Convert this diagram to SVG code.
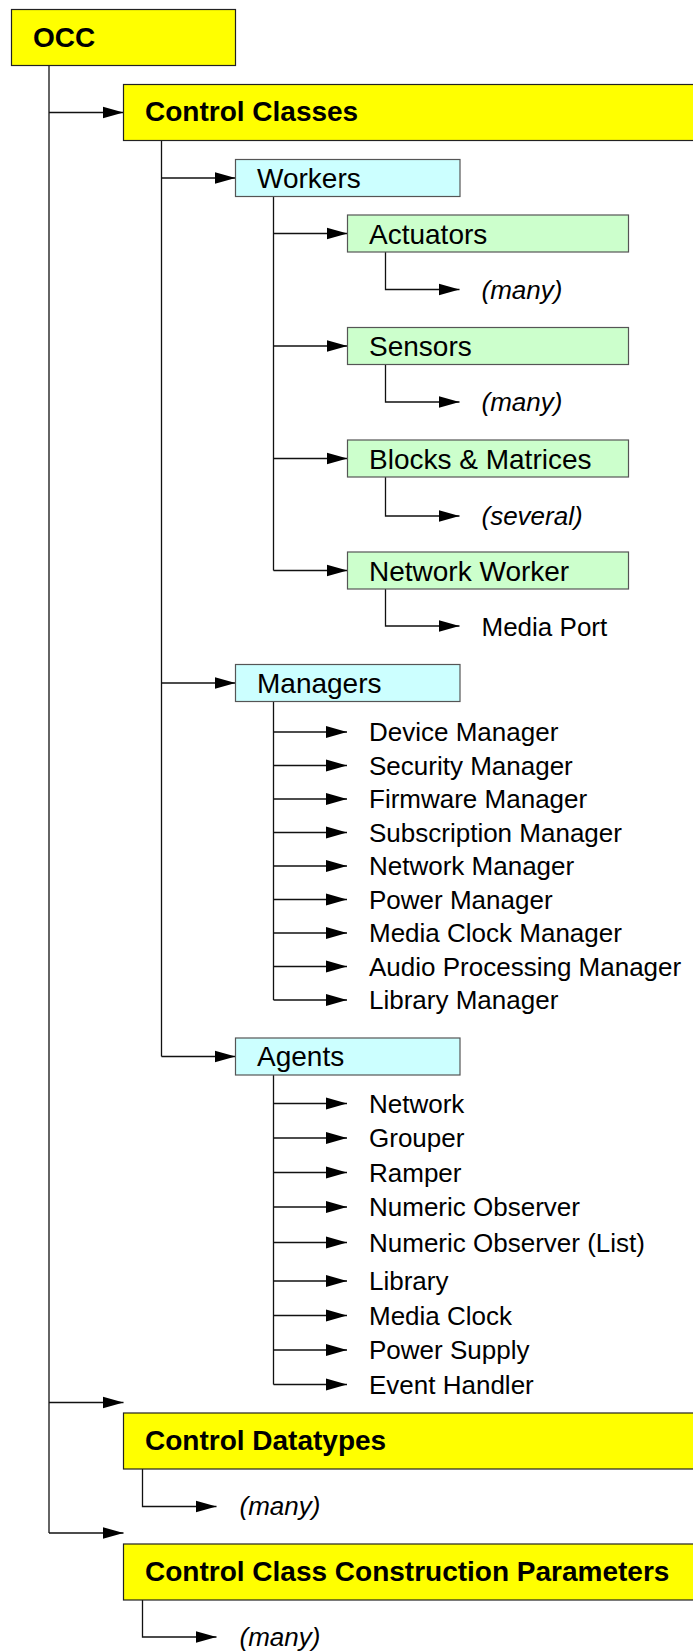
<svg xmlns="http://www.w3.org/2000/svg" width="693" height="1652" viewBox="0 0 693 1652">
  <defs>
    <marker id="arrow" markerUnits="userSpaceOnUse" markerWidth="22" markerHeight="13" refX="21" refY="6.5" orient="auto">
      <path d="M0,0.5 L21,6.5 L0,12.5 z" fill="#000"/>
    </marker>
    <style>
      .title { fill: #ffff00; stroke: #222; stroke-width: 1.2; }
      .group { fill: #ccffff; stroke: #555; stroke-width: 1.2; }
      .kind { fill: #ccffcc; stroke: #555; stroke-width: 1.2; }
      .bold { font-family: "Liberation Sans", Arial, sans-serif; font-weight: bold; font-size: 28px; fill: #000; }
      .label { font-family: "Liberation Sans", Arial, sans-serif; font-size: 28px; fill: #000; }
      .item { font-family: "Liberation Sans", Arial, sans-serif; font-size: 26px; fill: #000; }
      .note { font-family: "Liberation Sans", Arial, sans-serif; font-size: 26px; font-style: italic; fill: #000; }
      #connectors path { fill: none; stroke: #111; stroke-width: 1.3; }
      #connectors .to { marker-end: url(#arrow); }
    </style>
  </defs>

  <rect width="693" height="1652" fill="#fff"/>

  <!-- connectors -->
  <g id="connectors">
    <!-- OCC trunk -->
    <path d="M49,65.5 V1533"/>
    <path class="to" d="M49,112.5 H123.5"/>
    <path class="to" d="M49,1402.5 H123.5"/>
    <path class="to" d="M49,1533 H123.5"/>

    <!-- Control Classes trunk -->
    <path d="M161.5,140.5 V1056.5"/>
    <path class="to" d="M161.5,178 H235.5"/>
    <path class="to" d="M161.5,683 H235.5"/>
    <path class="to" d="M161.5,1056.5 H235.5"/>

    <!-- Workers trunk -->
    <path d="M273.5,196.5 V570.5"/>
    <path class="to" d="M273.5,233.5 H347.5"/>
    <path class="to" d="M273.5,346 H347.5"/>
    <path class="to" d="M273.5,458.5 H347.5"/>
    <path class="to" d="M273.5,570.5 H347.5"/>

    <!-- worker kinds -->
    <path class="to" d="M385.5,252 V289.5 H459.5"/>
    <path class="to" d="M385.5,364.5 V402 H459.5"/>
    <path class="to" d="M385.5,477 V516 H459.5"/>
    <path class="to" d="M385.5,589 V626 H459.5"/>

    <!-- Managers trunk -->
    <path d="M273.5,701.5 V1000"/>
    <path class="to" d="M273.5,732 H347"/>
    <path class="to" d="M273.5,765.5 H347"/>
    <path class="to" d="M273.5,799 H347"/>
    <path class="to" d="M273.5,832.5 H347"/>
    <path class="to" d="M273.5,866 H347"/>
    <path class="to" d="M273.5,899.5 H347"/>
    <path class="to" d="M273.5,933 H347"/>
    <path class="to" d="M273.5,966.5 H347"/>
    <path class="to" d="M273.5,1000 H347"/>

    <!-- Agents trunk -->
    <path d="M273.5,1062 V1384.5"/>
    <path class="to" d="M273.5,1103.5 H347"/>
    <path class="to" d="M273.5,1138 H347"/>
    <path class="to" d="M273.5,1172.5 H347"/>
    <path class="to" d="M273.5,1207 H347"/>
    <path class="to" d="M273.5,1242.5 H347"/>
    <path class="to" d="M273.5,1281 H347"/>
    <path class="to" d="M273.5,1315.5 H347"/>
    <path class="to" d="M273.5,1350 H347"/>
    <path class="to" d="M273.5,1384.5 H347"/>

    <!-- datatypes and construction parameters -->
    <path class="to" d="M142.5,1469 V1506.5 H216.5"/>
    <path class="to" d="M142.5,1600 V1637 H216.5"/>
  </g>

  <!-- top level -->
  <g id="occ">
    <rect class="title" x="11.5" y="9.5" width="224" height="56"/>
    <text class="bold" x="33" y="47">OCC</text>
  </g>

  <g id="control-classes">
    <rect class="title" x="123.5" y="84.5" width="580" height="56"/>
    <text class="bold" x="145" y="121">Control Classes</text>
  </g>

  <!-- Workers -->
  <g id="workers">
    <rect class="group" x="235.5" y="159.5" width="224.5" height="37"/>
    <text class="label" x="257" y="187.5">Workers</text>
  </g>
  <g id="actuators">
    <rect class="kind" x="347.5" y="215" width="281" height="37"/>
    <text class="label" x="369" y="243.5">Actuators</text>
  </g>
  <g id="actuators-many">
    <text class="note" x="481.5" y="298.5">(many)</text>
  </g>
  <g id="sensors">
    <rect class="kind" x="347.5" y="327.5" width="281" height="37"/>
    <text class="label" x="369" y="356">Sensors</text>
  </g>
  <g id="sensors-many">
    <text class="note" x="481.5" y="411">(many)</text>
  </g>
  <g id="blocks-matrices">
    <rect class="kind" x="347.5" y="440" width="281" height="37"/>
    <text class="label" x="369" y="468.5">Blocks &amp; Matrices</text>
  </g>
  <g id="blocks-several">
    <text class="note" x="481.5" y="525">(several)</text>
  </g>
  <g id="network-worker">
    <rect class="kind" x="347.5" y="552" width="281" height="37"/>
    <text class="label" x="369" y="580.5">Network Worker</text>
  </g>
  <g id="media-port">
    <text class="item" x="481.5" y="635.5">Media Port</text>
  </g>

  <!-- Managers -->
  <g id="managers">
    <rect class="group" x="235.5" y="664.5" width="224.5" height="37"/>
    <text class="label" x="257" y="692.5">Managers</text>
  </g>
  <g id="manager-list">
    <text class="item" x="369" y="741">Device Manager</text>
    <text class="item" x="369" y="774.5">Security Manager</text>
    <text class="item" x="369" y="808">Firmware Manager</text>
    <text class="item" x="369" y="841.5">Subscription Manager</text>
    <text class="item" x="369" y="875">Network Manager</text>
    <text class="item" x="369" y="908.5">Power Manager</text>
    <text class="item" x="369" y="942">Media Clock Manager</text>
    <text class="item" x="369" y="975.5">Audio Processing Manager</text>
    <text class="item" x="369" y="1009">Library Manager</text>
  </g>

  <!-- Agents -->
  <g id="agents">
    <rect class="group" x="235.5" y="1038" width="224.5" height="37"/>
    <text class="label" x="257" y="1066">Agents</text>
  </g>
  <g id="agent-list">
    <text class="item" x="369" y="1112.5">Network</text>
    <text class="item" x="369" y="1147">Grouper</text>
    <text class="item" x="369" y="1181.5">Ramper</text>
    <text class="item" x="369" y="1216">Numeric Observer</text>
    <text class="item" x="369" y="1251.5">Numeric Observer (List)</text>
    <text class="item" x="369" y="1290">Library</text>
    <text class="item" x="369" y="1324.5">Media Clock</text>
    <text class="item" x="369" y="1359">Power Supply</text>
    <text class="item" x="369" y="1393.5">Event Handler</text>
  </g>

  <!-- Control Datatypes -->
  <g id="control-datatypes">
    <rect class="title" x="123.5" y="1413" width="580" height="56"/>
    <text class="bold" x="145" y="1450">Control Datatypes</text>
  </g>
  <g id="datatypes-many">
    <text class="note" x="239.5" y="1515">(many)</text>
  </g>

  <!-- Control Class Construction Parameters -->
  <g id="construction-parameters">
    <rect class="title" x="123.5" y="1544" width="580" height="56"/>
    <text class="bold" x="145" y="1581">Control Class Construction Parameters</text>
  </g>
  <g id="parameters-many">
    <text class="note" x="239.5" y="1646">(many)</text>
  </g>
</svg>
